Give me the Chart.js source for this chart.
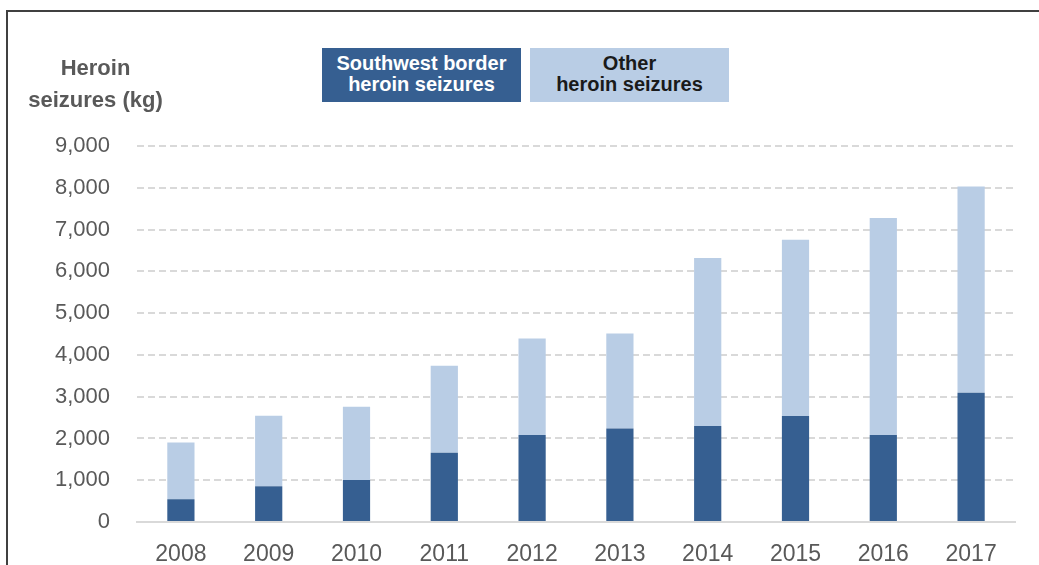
<!DOCTYPE html>
<html>
<head>
<meta charset="utf-8">
<title>Heroin seizures</title>
<script src="https://cdn.jsdelivr.net/npm/chart.js@4"></script>
<style>
    body { margin: 0; background: #fff; }
    .wrap { position: relative; width: 1039px; height: 565px; overflow: hidden; }
    .frame { position: absolute; left: 6px; top: 10px; width: 1040px; height: 600px;
             border-top: 2px solid #404040; border-left: 2px solid #404040; }
    canvas { position: absolute; left: 0; top: 0; }
    .ytitle { position: absolute; left: 8px; top: 52px; width: 175px; text-align: center;
              font: bold 22px "Liberation Sans Narrow", "Liberation Sans", sans-serif;
              color: #595959; line-height: 32px; }
    .legend { position: absolute; top: 48px; width: 199px; height: 54px; text-align: center;
              font: bold 20px "Liberation Sans Narrow", "Liberation Sans", sans-serif;
              line-height: 21px; padding-top: 5px; box-sizing: border-box; }
    .sw { left: 322px; background: #365f91; color: #fff; }
    .other { left: 530px; background: #b9cde5; color: #1a1a1a; }
</style>
</head>
<body>
<div class="wrap">
    <div class="frame"></div>
    <canvas id="chart" width="1039" height="565"></canvas>
    <div class="ytitle">Heroin<br>seizures (kg)</div>
    <div class="legend sw">Southwest border<br>heroin seizures</div>
    <div class="legend other">Other<br>heroin seizures</div>
</div>

<script>
// Datos (kg)
const years = ['2008', '2009', '2010', '2011', '2012', '2013', '2014', '2015', '2016', '2017'];
const southwest = [545, 855, 1005, 1655, 2085, 2240, 2295, 2540, 2080, 3095];
const totals = [1900, 2545, 2760, 3740, 4390, 4510, 6320, 6755, 7275, 8030];
const other = totals.map((t, i) => t - southwest[i]);
const yTicks = [0, 1000, 2000, 3000, 4000, 5000, 6000, 7000, 8000, 9000];

const tickFont = { family: '"Liberation Sans", Arial, sans-serif', size: 22 };

new Chart(document.getElementById('chart'), {
    type: 'bar',
    data: {
        labels: years,
        datasets: [
            { label: 'Southwest border heroin seizures', data: southwest, backgroundColor: '#365f91',
              barPercentage: 0.31, categoryPercentage: 1 },
            { label: 'Other heroin seizures', data: other, backgroundColor: '#b9cde5',
              barPercentage: 0.31, categoryPercentage: 1 }
        ]
    },
    options: {
        responsive: false,
        animation: false,
        layout: { padding: { top: 146, right: 24, left: 0, bottom: 0 } },
        plugins: { legend: { display: false }, tooltip: { enabled: false } },
        scales: {
            x: {
                stacked: true,
                grid: { display: false },
                border: { display: true, color: '#d9d9d9', width: 2 },
                ticks: { color: '#595959', font: { ...tickFont, size: 23 }, padding: 11 },
                afterFit: (s) => { s.height = 43; }
            },
            y: {
                stacked: true,
                min: 0,
                max: 9000,
                afterBuildTicks: (s) => { s.ticks = yTicks.map(v => ({ value: v })); },
                grid: {
                    color: (ctx) => ctx.tick && ctx.tick.value === 0 ? 'rgba(0,0,0,0)' : '#d9d9d9',
                    lineWidth: 2,
                    drawTicks: false
                },
                border: { display: false, dash: [7, 4] },
                ticks: {
                    color: '#595959',
                    font: tickFont,
                    padding: 27,
                    callback: (v) => v.toLocaleString('en-US')
                },
                afterFit: (s) => { s.width = 137; }
            }
        }
    }
});
</script>
</body>
</html>
